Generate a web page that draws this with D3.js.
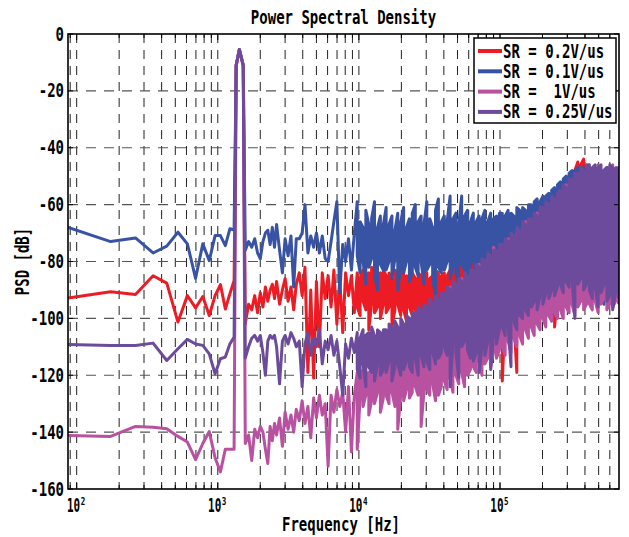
<!DOCTYPE html>
<html>
<head>
<meta charset="utf-8">
<script src="https://cdn.jsdelivr.net/npm/d3@7"></script>
<style>
  body { margin: 0; background: #fff; }
  text { font-family: 'DejaVu Sans Mono', monospace; font-weight: bold; fill: #000; }
</style>
</head>
<body>
<div id="psd-chart"></div>
<script>
// FFT bin frequencies (Hz) below 10 kHz, shared by all four traces
const freqs = [
  87, 174, 261, 348, 435, 522, 609, 696, 783, 870, 957, 1044, 1131, 1218, 1305,
  1350, 1422, 1515,
  1566, 1653, 1740, 1827, 1914, 2001, 2088, 2175, 2262, 2349,
  2436, 2523, 2610, 2740, 2870, 3000, 3150, 3300, 3450, 3600,
  3780, 3960, 4150, 4350, 4560, 4780, 5000, 5250, 5500, 5770,
  6050, 6350, 6650, 6980, 7320, 7680, 8050, 8440, 8850, 9280
];

// above 10 kHz: one column per ~3 px, each with the max and min of the bins in it
const denseFreqs = [
  9730, 10200, 10700, 11200, 11750, 12300, 12900, 13550, 14200, 14900,
  15600, 16350, 17150, 18000, 18850, 19800, 20750, 21750, 22800, 23900,
  25100, 26300, 27600, 28900, 30300, 31800, 33300, 34900, 36600, 38400,
  40300, 42200, 44300, 46400, 48700, 51000, 53500, 56100, 58800, 61700,
  64700, 67800, 71100, 74500, 78100, 81900, 85900, 90000, 94400, 99000,
  103800, 108800, 114100, 119600, 125400, 131500, 137900, 144600, 151600, 159000,
  166700, 174800, 183300, 192200, 201500, 211300, 221600, 232300, 243600, 255400,
  267800, 280800, 294400, 308700, 323700, 339400, 355900, 373200, 391300, 410300,
  430200, 451100, 473000, 496000, 520000, 545300, 571800, 599500, 628600, 659100,
  691100
];

// PSD (dB), SR = 0.2V/us
const sr02 = [
  -92.8, -90.6, -91.6, -85, -87.6, -101.3, -92, -96.3, -92.3, -99, -92, -88.1, -96.7, -91.4, -86.7,
  -11, -5.5, -11,
  -102, -95, -97, -92, -98, -91, -96, -89, -94, -90,
  -88, -93, -87, -95, -90, -86, -94, -89, -97, -88,
  -84, -92, -82, -119, -90, -121, -87, -110, -84, -93,
  -85, -96, -83, -102, -86, -105, -84, -92, -85, -98
];
const sr02Max = [
  -84, -86, -83, -85, -84, -82, -85, -86, -84, -83,
  -85, -84, -86, -83, -85, -84, -82, -85, -86, -84,
  -86, -84, -85, -83, -84, -86, -85, -83, -84, -85,
  -84, -85, -83, -84, -82, -83, -81, -80, -79, -78,
  -78, -77, -76, -75, -74, -74, -73, -72, -71, -70,
  -70, -69, -68, -67, -67, -66, -65, -64, -63, -62,
  -62, -61, -60, -61, -59, -59, -58, -57, -56, -55,
  -54, -53, -52, -51, -49, -48, -45, -46, -44, -47,
  -47, -48, -48, -47, -48, -48, -47, -47, -48, -48,
  -49
];
const sr02Min = [
  -96, -99, -94, -97, -104, -95, -98, -96, -100, -95,
  -98, -96, -103, -97, -95, -99, -97, -101, -96, -99,
  -97, -100, -96, -98, -105, -97, -99, -96, -98, -97,
  -99, -96, -101, -97, -98, -100, -96, -99, -97, -98,
  -97, -99, -96, -98, -100, -97, -99, -98, -101, -99,
  -122, -99, -97, -98, -100, -119, -98, -96, -97, -95,
  -95, -94, -96, -93, -94, -92, -93, -94, -103, -92,
  -91, -90, -92, -89, -90, -91, -95, -88, -89, -90,
  -88, -90, -87, -89, -91, -88, -90, -89, -88, -90,
  -89
];

// SR = 0.1V/us
const sr01 = [
  -68, -73, -71.7, -77, -74.6, -69.7, -73.8, -85.9, -73.8, -79.7, -70.9, -70.9, -74.4, -68.5, -68.9,
  -11, -5.5, -11,
  -76, -73, -75, -72, -77, -79, -73, -70, -69, -74,
  -68, -75, -67, -76, -84, -72, -78, -71, -89, -72,
  -72, -70, -60, -77, -71, -75, -70, -77, -71, -79,
  -80, -73, -66, -59, -91, -74, -80, -72, -83, -70
];
const sr01Max = [
  -59, -66, -68, -62, -67, -65, -59, -68, -64, -67,
  -61, -67, -64, -69, -63, -66, -61, -68, -65, -63,
  -60, -66, -64, -67, -59, -65, -68, -62, -58, -66,
  -64, -66, -57, -65, -63, -67, -57, -64, -62, -66,
  -63, -66, -64, -65, -62, -66, -63, -65, -64, -63,
  -63, -64, -62, -63, -64, -61, -62, -61, -62, -60,
  -60, -59, -58, -59, -57, -57, -56, -55, -54, -53,
  -52, -51, -50, -49, -48, -48, -47, -47, -47, -47,
  -47, -48, -48, -47, -48, -48, -47, -49, -48, -48,
  -49
];
const sr01Min = [
  -78, -84, -80, -88, -82, -79, -85, -90, -81, -83,
  -83, -80, -86, -79, -90, -82, -84, -80, -87, -84,
  -82, -85, -80, -88, -83, -81, -86, -92, -82, -84,
  -83, -80, -86, -82, -84, -88, -81, -83, -85, -82,
  -80, -84, -82, -86, -83, -85, -82, -84, -83, -86,
  -82, -84, -83, -85, -84, -88, -96, -98, -85, -84,
  -84, -83, -85, -82, -84, -83, -82, -84, -81, -80,
  -80, -82, -78, -80, -79, -81, -78, -80, -79, -82,
  -88, -84, -92, -86, -90, -95, -84, -87, -85, -88,
  -86
];

// SR = 1V/us
const sr1 = [
  -141.2, -141.5, -138, -138.3, -138.8, -141.5, -143.5, -149.7, -144, -139.8, -149, -154, -146, -146, -146,
  -11, -5.5, -11,
  -144, -141, -150, -139, -142, -138, -140, -146, -151, -138,
  -143, -137, -141, -135, -145, -133, -139, -134, -140, -132,
  -136, -129, -137, -131, -142, -128, -135, -127, -134, -130,
  -152, -127, -133, -125, -131, -126, -140, -124, -147, -127
];
const sr1Max = [
  -119, -121, -118, -120, -119, -117, -119, -118, -116, -118,
  -116, -117, -115, -116, -114, -115, -113, -114, -112, -113,
  -111, -110, -109, -108, -106, -105, -104, -102, -101, -99,
  -93, -91, -89, -89, -90, -88, -86, -86, -87, -85,
  -85, -83, -81, -81, -82, -79, -80, -75, -78, -76,
  -76, -74, -72, -72, -73, -70, -71, -68, -66, -67,
  -67, -65, -63, -63, -63, -61, -62, -59, -60, -58,
  -57, -55, -53, -53, -53, -51, -51, -49, -50, -48,
  -48, -49, -48, -46, -48, -49, -49, -48, -46, -49,
  -48
];
const sr1Min = [
  -146, -128, -131, -127, -134, -129, -130, -126, -133, -128,
  -127, -130, -126, -131, -139, -127, -129, -125, -128, -126,
  -124, -127, -138, -126, -125, -127, -123, -129, -127, -124,
  -122, -125, -121, -126, -120, -123, -119, -124, -120, -118,
  -117, -119, -115, -120, -116, -114, -117, -112, -114, -111,
  -110, -113, -108, -112, -107, -110, -106, -109, -104, -107,
  -103, -106, -102, -104, -100, -103, -99, -101, -98, -100,
  -97, -100, -96, -98, -95, -99, -96, -94, -97, -95,
  -95, -97, -94, -98, -95, -93, -97, -95, -96, -94,
  -95
];

// SR = 0.25V/us
const sr025 = [
  -109.2, -109.5, -109.5, -108.7, -114.8, -110.7, -107.4, -109, -109.5, -112.5, -119.5, -114.2, -113.6, -109, -106.6,
  -11, -5.5, -11,
  -114, -110, -107, -106, -108, -106, -112, -120, -108, -106,
  -107, -106, -110, -123, -108, -106, -109, -105, -107, -110,
  -108, -124, -109, -105, -113, -107, -110, -104, -116, -108,
  -111, -106, -113, -108, -117, -127, -109, -114, -107, -112
];
const sr025Max = [
  -105, -107, -104, -106, -105, -103, -106, -104, -105, -104,
  -104, -102, -103, -101, -103, -100, -102, -99, -100, -98,
  -98, -96, -97, -95, -96, -93, -95, -92, -93, -91,
  -91, -89, -90, -87, -88, -86, -87, -84, -85, -83,
  -83, -81, -82, -79, -80, -77, -78, -76, -76, -74,
  -74, -72, -73, -70, -71, -68, -69, -66, -67, -65,
  -65, -63, -64, -61, -61, -59, -60, -57, -58, -56,
  -55, -53, -54, -51, -51, -49, -49, -47, -48, -46,
  -46, -47, -46, -47, -46, -48, -47, -46, -47, -47,
  -47
];
const sr025Min = [
  -118, -121, -116, -124, -117, -119, -122, -116, -120, -118,
  -119, -115, -122, -117, -116, -120, -118, -115, -117, -119,
  -114, -120, -113, -117, -115, -118, -112, -116, -114, -112,
  -110, -113, -124, -109, -112, -121, -110, -108, -111, -114,
  -115, -112, -119, -110, -113, -108, -118, -106, -109, -104,
  -103, -106, -102, -117, -101, -104, -99, -100, -97, -99,
  -96, -94, -97, -92, -95, -91, -93, -90, -92, -89,
  -88, -91, -87, -89, -86, -100, -88, -86, -90, -88,
  -90, -93, -89, -96, -91, -88, -94, -92, -97, -91,
  -93
];

const seriesLabels = ['SR = 0.2V/us', 'SR = 0.1V/us', 'SR =  1V/us', 'SR = 0.25V/us'];
const seriesColors = ['#ed1c24', '#3953a4', '#b8519f', '#6c4b9c'];
const yTicks = [0, -20, -40, -60, -80, -100, -120, -140, -160];
const xDecades = [2, 3, 4, 5];

const createPsdChart = () => {
    const width = 629;
    const height = 537;
    const margin = {top: 34, right: 10, bottom: 48, left: 68};

    const svg = d3.select('#psd-chart')
      .append('svg')
        .attr('viewBox', [0, 0, width, height])
        .attr('width', width)
        .attr('height', height);

    const xScale = d3.scaleLog()
      .domain([86.8, 697000])
      .range([margin.left, width - margin.right]);

    const yScale = d3.scaleLinear()
      .domain([-160, 0])
      .range([height - margin.bottom, margin.top]);

    // stretched mono text, like the original's tall narrow gothic font
    const addText = (str, x, y, size, sy, anchor, rotate = 0) => svg.append('text')
        .attr('transform', `translate(${x},${y}) rotate(${rotate}) scale(1,${sy})`)
        .attr('text-anchor', anchor)
        .attr('xml:space', 'preserve')
        .style('font-size', `${size}px`)
        .text(str);

    // grid
    const gridFreqs = xScale.ticks();
    svg.append('g')
      .selectAll('line')
      .data(gridFreqs)
      .join('line')
        .attr('x1', d => xScale(d))
        .attr('x2', d => xScale(d))
        .attr('y1', margin.top)
        .attr('y2', height - margin.bottom)
        .attr('stroke', '#222')
        .attr('stroke-width', 1)
        .attr('stroke-dasharray', '9 7');

    svg.append('g')
      .selectAll('line')
      .data(yTicks.slice(1, -1))
      .join('line')
        .attr('x1', margin.left)
        .attr('x2', width - margin.right)
        .attr('y1', d => yScale(d))
        .attr('y2', d => yScale(d))
        .attr('stroke', '#555')
        .attr('stroke-width', 1.2)
        .attr('stroke-dasharray', '10 8');

    // traces
    svg.append('clipPath')
        .attr('id', 'plot-clip')
      .append('rect')
        .attr('x', margin.left)
        .attr('y', margin.top)
        .attr('width', width - margin.left - margin.right)
        .attr('height', height - margin.top - margin.bottom);

    const buildPoints = (vals, maxVals, minVals) => {
        const pts = freqs.map((f, i) => ({f: f, v: vals[i]}));
        denseFreqs.forEach((f, i) => {
            // max->min then min->max on the next column, like a decimated plot
            const pair = [{f: f, v: maxVals[i]}, {f: f, v: minVals[i]}];
            pts.push(...(i % 2 === 0 ? pair : pair.reverse()));
        });
        return pts;
    };

    const series = [
        buildPoints(sr02, sr02Max, sr02Min),
        buildPoints(sr01, sr01Max, sr01Min),
        buildPoints(sr1, sr1Max, sr1Min),
        buildPoints(sr025, sr025Max, sr025Min)
    ].map((points, i) => ({label: seriesLabels[i], color: seriesColors[i], points: points}));

    const line = d3.line()
      .x(d => xScale(d.f))
      .y(d => yScale(d.v));

    svg.append('g')
        .attr('clip-path', 'url(#plot-clip)')
      .selectAll('path')
      .data(series)
      .join('path')
        .attr('d', d => line(d.points))
        .attr('fill', 'none')
        .attr('stroke', d => d.color)
        .attr('stroke-width', 3)
        .attr('stroke-linejoin', 'round');

    // axes box and inner ticks
    const axisG = svg.append('g');
    const majorTick = d => Math.abs(Math.log10(d) - Math.round(Math.log10(d))) < 1e-9;
    axisG.selectAll('.tick-b')
      .data(gridFreqs)
      .join('line')
        .attr('x1', d => xScale(d))
        .attr('x2', d => xScale(d))
        .attr('y1', height - margin.bottom)
        .attr('y2', d => height - margin.bottom - (majorTick(d) ? 6 : 4))
        .attr('stroke', '#000');
    axisG.selectAll('.tick-t')
      .data(gridFreqs)
      .join('line')
        .attr('x1', d => xScale(d))
        .attr('x2', d => xScale(d))
        .attr('y1', margin.top)
        .attr('y2', d => margin.top + (majorTick(d) ? 6 : 4))
        .attr('stroke', '#000');
    axisG.selectAll('.tick-l')
      .data(yTicks)
      .join('line')
        .attr('x1', margin.left)
        .attr('x2', margin.left + 5)
        .attr('y1', d => yScale(d))
        .attr('y2', d => yScale(d))
        .attr('stroke', '#000');
    axisG.selectAll('.tick-r')
      .data(yTicks)
      .join('line')
        .attr('x1', width - margin.right)
        .attr('x2', width - margin.right - 5)
        .attr('y1', d => yScale(d))
        .attr('y2', d => yScale(d))
        .attr('stroke', '#000');

    svg.append('rect')
        .attr('x', margin.left)
        .attr('y', margin.top)
        .attr('width', width - margin.left - margin.right)
        .attr('height', height - margin.top - margin.bottom)
        .attr('fill', 'none')
        .attr('stroke', '#000')
        .attr('stroke-width', 1.6);

    // tick labels
    yTicks.forEach(t => addText(String(t), margin.left - 4, yScale(t) + 6.5, 14, 1.35, 'end'));
    xDecades.forEach(e => {
        const xt = xScale(Math.pow(10, e));
        addText('10', xt + 3.5, 511.5, 11, 1.7, 'end');
        addText(String(e), xt + 4, 504.5, 7.5, 1.45, 'start');
    });

    // titles
    addText('Power Spectral Density', (margin.left + width - margin.right) / 2, 24, 14, 1.4, 'middle');
    addText('Frequency [Hz]', 341, 531, 14, 1.35, 'middle');
    addText('PSD [dB]', 29, (margin.top + height - margin.bottom) / 2, 14, 1.35, 'middle', -90);

    // legend
    const legend = {x: 474, y: 38, w: 142, h: 85};
    svg.append('rect')
        .attr('x', legend.x)
        .attr('y', legend.y)
        .attr('width', legend.w)
        .attr('height', legend.h)
        .attr('fill', '#fff')
        .attr('stroke', '#000')
        .attr('stroke-width', 1.5);

    series.forEach((s, i) => {
        const ly = legend.y + 13 + i * 20.3;
        svg.append('line')
            .attr('x1', legend.x + 4)
            .attr('x2', legend.x + 28)
            .attr('y1', ly)
            .attr('y2', ly)
            .attr('stroke', s.color)
            .attr('stroke-width', 4);
        addText(s.label, legend.x + 29, ly + 6.5, 14, 1.35, 'start');
    });
};

createPsdChart();
</script>
</body>
</html>
